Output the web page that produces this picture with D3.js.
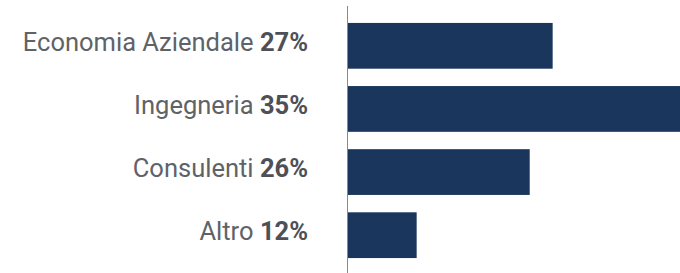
<!DOCTYPE html>
<html><head><meta charset="utf-8">
<script src="https://cdn.jsdelivr.net/npm/d3@7"></script>
<style>body{margin:0;background:#fff}svg{display:block}</style>
</head><body>
<script>
const categories = ["Economia Aziendale", "Ingegneria", "Consulenti", "Altro"];
const percentLabels = ["27%", "35%", "26%", "12%"];
const barValues = [61.7, 100, 54.8, 20.8];

const W = 680, H = 273;
const svg = d3.select("body").append("svg").attr("width", W).attr("height", H);
const x0 = 347.5;
const x = d3.scaleLinear().domain([0, 100]).range([x0, 680]);
const y = d3.scaleBand().domain(categories).range([4, 277]).paddingInner(0.275).paddingOuter(0.3);

svg.selectAll("rect.bar").data(categories).join("rect")
  .attr("class", "bar")
  .attr("x", x(0) + 0.5)
  .attr("y", d => y(d))
  .attr("width", (d, i) => x(barValues[i]) - x(0) - 0.5)
  .attr("height", y.bandwidth())
  .attr("fill", "#1a365c");

svg.append("line").attr("x1", x0).attr("x2", x0).attr("y1", 6).attr("y2", H)
  .attr("stroke", "#8a8a8e").attr("stroke-width", 1);

const t = svg.selectAll("text.lab").data(categories).join("text")
  .attr("class", "lab")
  .attr("x", 308)
  .attr("y", d => y(d) + y.bandwidth() / 2 + 5)
  .attr("text-anchor", "end")
  .attr("font-family", "Roboto, sans-serif")
  .attr("font-size", 25.5)
  .attr("fill", "#5f6368");
t.append("tspan").text(d => d + " ");
t.append("tspan").attr("font-weight", "bold").attr("fill", "#4d5056").text((d, i) => percentLabels[i]);
</script>
</body></html>
